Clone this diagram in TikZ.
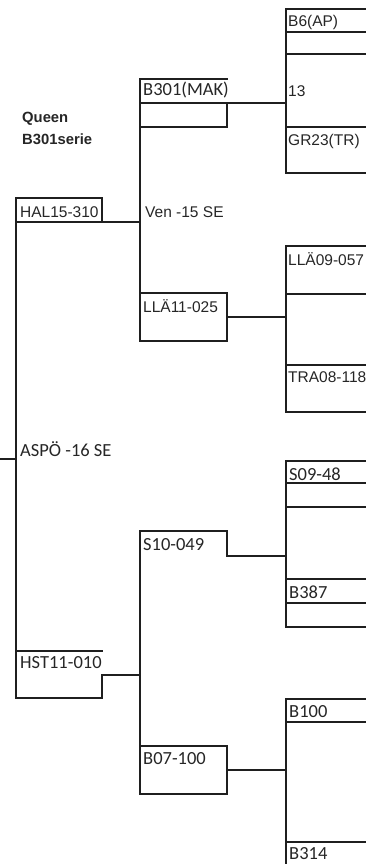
\documentclass[tikz,border=0pt]{standalone}
\usepackage{fontspec}
\setmainfont{Liberation Sans}
\newfontfamily\calfont{Carlito}
\begin{document}
\begin{tikzpicture}[x=1pt,y=-1pt,
  ln/.style={line width=2pt,draw=black!88,line cap=rect},
  ar/.style={anchor=base west,inner sep=0pt,font=\fontsize{15.5}{18}\selectfont,text=black!85},
  ca/.style={anchor=base west,inner sep=0pt,font=\calfont\fontsize{18.5}{22}\selectfont,text=black!85},
  bd/.style={anchor=base west,inner sep=0pt,font=\bfseries\fontsize{14.8}{18}\selectfont,text=black!85}]
\useasboundingbox (0,0) rectangle (365,864);
% right column boxes
\draw[ln] (286,9) -- (286,173);
\foreach \y in {9,32,54,127,173} \draw[ln] (286,\y) -- (366,\y);
\draw[ln] (286,246) -- (286,412);
\foreach \y in {246,294,365,412} \draw[ln] (286,\y) -- (366,\y);
\draw[ln] (286,461) -- (286,627);
\foreach \y in {461,483,507,579,603,627} \draw[ln] (286,\y) -- (366,\y);
\draw[ln] (286,699) -- (286,866);
\foreach \y in {699,722,842} \draw[ln] (286,\y) -- (366,\y);
% B301(MAK)
\draw[ln] (227,79) -- (140,79) -- (140,293);
\draw[ln] (140,103) -- (286,103);
\draw[ln] (227,103) -- (227,127) -- (140,127);
% LLA11-025
\draw[ln] (140,293) rectangle (227,341);
\draw[ln] (227,317) -- (286,317);
% S10-049
\draw[ln] (140,746) -- (140,531) -- (227,531) -- (227,556) -- (286,556);
% B07-100
\draw[ln] (140,746) rectangle (227,794);
\draw[ln] (227,770) -- (286,770);
% HAL15-310
\draw[ln] (16,698) -- (16,198) -- (102,198) -- (102,222);
\draw[ln] (16,222) -- (140,222);
% HST11-010
\draw[ln] (16,651) -- (102,651);
\draw[ln] (140,675) -- (102,675) -- (102,698) -- (16,698);
% ASPO
\draw[ln] (0,459) -- (16,459);
% texts
\node[ar] (b6) at (288,27) {B6(AP)};
\node[ar] (t13) at (288,97) {13};
\node[ar] (gr23) at (288,145) {GR23(TR)};
\node[ca] (b301) at (143,96) {B301(MAK)};
\node[bd] (queen) at (22,122) {Queen};
\node[bd] (serie) at (22,144) {B301serie};
\node[ar] (hal) at (20,217) {HAL15-310};
\node[ar] (ven) at (145,217) {Ven -15 SE};
\node[ar] (lla11) at (143,312) {LLÄ11-025};
\node[ar] (lla09) at (288,265) {LLÄ09-057};
\node[ar] (tra) at (288,382) {TRA08-118};
\node[ca] (aspo) at (20,456) {ASPÖ -16 SE};
\node[ca] (s09) at (289,480) {S09-48};
\node[ca] (s10) at (143,550) {S10-049};
\node[ca] (b387) at (289,598) {B387};
\node[ca] (hst) at (20,668) {HST11-010};
\node[ca] (b07) at (143,764) {B07-100};
\node[ca] (b100) at (289,717) {B100};
\node[ca] (b314) at (289,859) {B314};
\end{tikzpicture}
\end{document}
